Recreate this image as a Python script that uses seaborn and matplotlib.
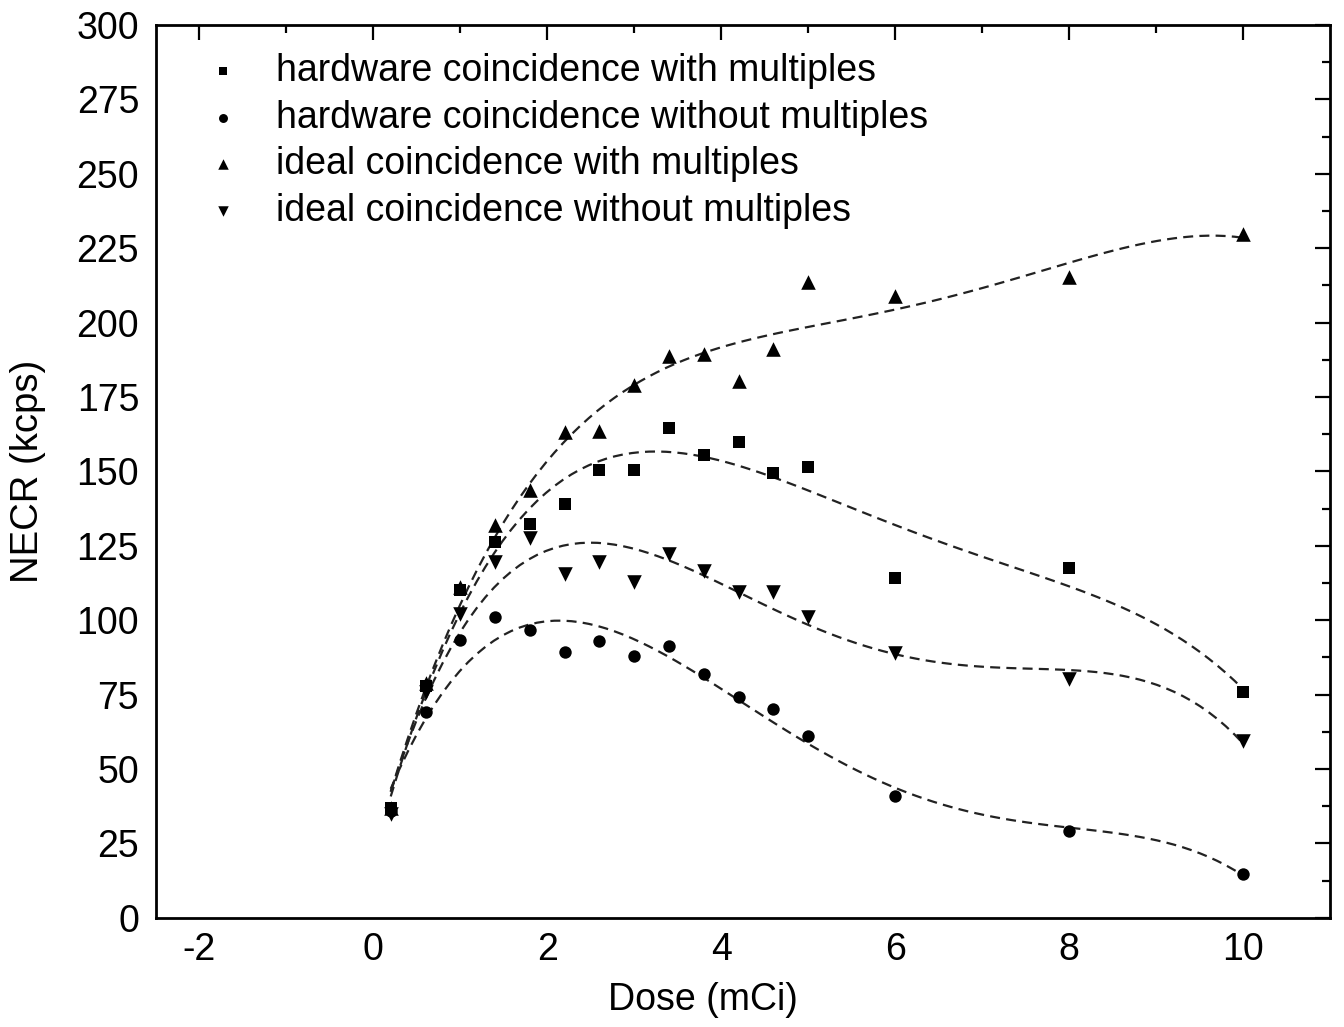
import matplotlib
matplotlib.use("Agg")
import matplotlib.pyplot as plt
import numpy as np
import pandas as pd
import seaborn as sns

# dose values (mCi)
dose = [0.2, 0.6, 1.0, 1.4, 1.8, 2.2, 2.6, 3.0, 3.4, 3.8, 4.2, 4.6, 5.0, 6, 8, 10]

# NECR (kcps)
hw_with = [37, 78, 110, 126.4, 132.4, 139, 150.3, 150.5, 164.6, 155.6, 159.7, 149.4, 151.3, 114.3, 117.5, 75.8]
hw_without = [36, 69, 93.4, 101.2, 96.7, 89.4, 93.1, 87.8, 91.4, 81.9, 74.1, 70.2, 60.9, 41.0, 29.2, 14.6]
ideal_with = [37, 79, 111, 132, 143.6, 163.2, 163.4, 179.1, 188.6, 189.5, 180.2, 191.1, 213.5, 208.8, 215.2, 229.6]
ideal_without = [35, 76, 102, 119.5, 127.6, 115.6, 119.7, 112.8, 122.3, 116.6, 109.6, 109.3, 101.2, 88.9, 80.2, 59.4]

labels = ["hardware coincidence with multiples",
          "hardware coincidence without multiples",
          "ideal coincidence with multiples",
          "ideal coincidence without multiples"]
series = [hw_with, hw_without, ideal_with, ideal_without]
markers = {labels[0]: "s", labels[1]: "o", labels[2]: "^", labels[3]: "v"}
msizes = {labels[0]: 70, labels[1]: 80, labels[2]: 110, labels[3]: 110}

rows = []
for lab, vals in zip(labels, series):
    for d, v in zip(dose, vals):
        rows.append({"dose": d, "necr": v, "series": lab})
df = pd.DataFrame(rows)

sns.set_style("white")
plt.rcParams['font.family'] = ['Liberation Sans', 'DejaVu Sans']
plt.rcParams['axes.unicode_minus'] = False
plt.rcParams['text.color'] = 'black'
plt.rcParams['axes.labelcolor'] = 'black'
plt.rcParams['xtick.color'] = 'black'
plt.rcParams['ytick.color'] = 'black'

fig, ax = plt.subplots(figsize=(13.44, 10.27), dpi=100)
fig.subplots_adjust(left=0.116, right=0.9896, bottom=0.1064, top=0.9757)

# 4th order polynomial trend per series + markers
for lab in labels:
    sub = df[df["series"] == lab]
    sns.regplot(data=sub, x="dose", y="necr", order=4, ci=None, scatter=False, ax=ax,
                line_kws={"color": "#222222", "lw": 1.6, "ls": (0, (4.5, 2.8))})
    sns.scatterplot(data=sub, x="dose", y="necr", marker=markers[lab], s=msizes[lab],
                    color="black", edgecolor="black", linewidth=0, ax=ax, label=lab, zorder=3)

ax.set_xlim(-2.5, 11)
ax.set_ylim(0, 300)
ax.set_xticks([-2, 0, 2, 4, 6, 8, 10])
ax.set_yticks(np.arange(0, 301, 25))
ax.set_xticks(np.arange(-2, 11, 1), minor=True)
ax.set_yticks(np.arange(0, 300, 12.5), minor=True)
ax.tick_params(which="both", direction="in", top=True, right=True, labelsize=27, width=1.6)
ax.tick_params(axis="y", pad=12)
ax.tick_params(axis="x", pad=10)
ax.tick_params(which="major", length=11)
ax.tick_params(which="minor", length=5.5)
for sp in ax.spines.values():
    sp.set_linewidth(2)
    sp.set_color("black")

ax.set_xlabel("Dose (mCi)", fontsize=27)
ax.set_ylabel("NECR (kcps)", fontsize=27.5, labelpad=22)
ax.xaxis.set_label_coords(0.4655, -0.072)

leg = ax.legend(loc="upper left", frameon=False, fontsize=27, markerscale=0.72,
                handlelength=1.6, handletextpad=0.6, labelspacing=0.28, borderaxespad=0.35,
                bbox_to_anchor=(0.008, 1.0))

fig.savefig("out.png", dpi=100)
